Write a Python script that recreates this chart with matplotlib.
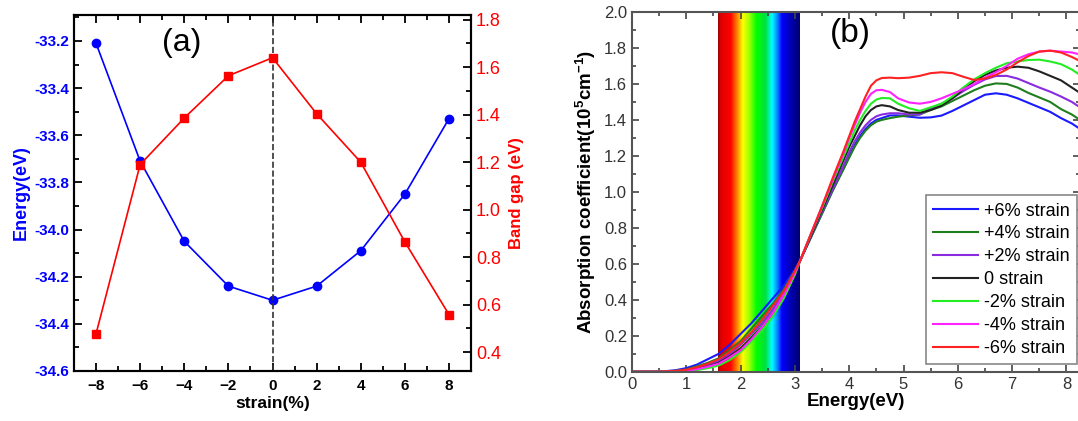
import numpy as np
import matplotlib.pyplot as plt
from matplotlib.colors import LinearSegmentedColormap
from matplotlib.ticker import MultipleLocator

plt.rcParams['font.family'] = ['Liberation Sans', 'DejaVu Sans']
plt.rcParams['mathtext.fontset'] = 'custom'
plt.rcParams['mathtext.rm'] = 'Liberation Sans'
plt.rcParams['mathtext.bf'] = 'Liberation Sans:bold'

# (a) energia e band gap vs strain
strain = [-8, -6, -4, -2, 0, 2, 4, 6, 8]
energy = [-33.21, -33.71, -34.05, -34.24, -34.30, -34.24, -34.09, -33.85, -33.53]
band_gap = [0.477, 1.19, 1.386, 1.564, 1.64, 1.404, 1.20, 0.864, 0.558]

# (b) coeficiente de absorcao
E = [0, 0.5, 0.8, 1.0, 1.2, 1.4, 1.6, 1.8, 2.0, 2.2, 2.4, 2.6, 2.8, 3.0, 3.1,
     3.3, 3.5, 3.7, 3.9, 4.0, 4.1, 4.2, 4.3, 4.4, 4.5, 4.6, 4.75, 4.9, 5.1,
     5.3, 5.5, 5.7, 5.9, 6.1, 6.3, 6.5, 6.7, 6.9, 7.1, 7.3, 7.5, 7.7, 7.9,
     8.1, 8.3]
abs_p6 = [0, 0, 0.008, 0.02, 0.04, 0.07, 0.1, 0.15, 0.21, 0.27, 0.34, 0.41,
          0.48, 0.57, 0.62, 0.75, 0.88, 1.01, 1.13, 1.2, 1.26, 1.31, 1.35,
          1.38, 1.4, 1.41, 1.425, 1.425, 1.418, 1.412, 1.414, 1.424, 1.45,
          1.48, 1.51, 1.54, 1.548, 1.54, 1.52, 1.495, 1.47, 1.445, 1.41,
          1.38, 1.34]
abs_p4 = [0, 0, 0.005, 0.013, 0.03, 0.05, 0.075, 0.12, 0.17, 0.24, 0.31,
          0.38, 0.46, 0.56, 0.62, 0.75, 0.88, 1.01, 1.13, 1.19, 1.25, 1.3,
          1.34, 1.37, 1.39, 1.4, 1.41, 1.418, 1.425, 1.43, 1.455, 1.475,
          1.505, 1.535, 1.565, 1.59, 1.603, 1.6, 1.58, 1.55, 1.525, 1.5,
          1.46, 1.43, 1.39]
abs_p2 = [0, 0, 0.004, 0.01, 0.02, 0.04, 0.06, 0.1, 0.15, 0.21, 0.27, 0.35,
          0.44, 0.55, 0.62, 0.76, 0.89, 1.02, 1.15, 1.22, 1.28, 1.33, 1.37,
          1.4, 1.42, 1.43, 1.437, 1.437, 1.43, 1.43, 1.465, 1.49, 1.52,
          1.56, 1.595, 1.625, 1.644, 1.645, 1.63, 1.605, 1.58, 1.557, 1.53,
          1.5, 1.46]
abs_0 = [0, 0, 0.002, 0.007, 0.015, 0.03, 0.05, 0.085, 0.13, 0.19, 0.25,
         0.33, 0.42, 0.54, 0.62, 0.76, 0.9, 1.04, 1.18, 1.25, 1.31, 1.37,
         1.42, 1.455, 1.475, 1.482, 1.475, 1.455, 1.44, 1.44, 1.455, 1.48,
         1.52, 1.57, 1.615, 1.65, 1.675, 1.69, 1.696, 1.69, 1.67, 1.645,
         1.62, 1.58, 1.54]
abs_m2 = [0, 0, 0.001, 0.004, 0.009, 0.02, 0.035, 0.065, 0.11, 0.17, 0.23,
          0.31, 0.41, 0.54, 0.62, 0.77, 0.91, 1.06, 1.2, 1.27, 1.34, 1.4,
          1.45, 1.49, 1.513, 1.522, 1.52, 1.49, 1.465, 1.45, 1.47, 1.49,
          1.53, 1.58, 1.625, 1.66, 1.69, 1.715, 1.725, 1.733, 1.735, 1.725,
          1.71, 1.68, 1.64]
abs_m4 = [0, 0, 0.002, 0.006, 0.014, 0.028, 0.045, 0.08, 0.12, 0.18, 0.25,
          0.33, 0.43, 0.55, 0.62, 0.77, 0.92, 1.07, 1.22, 1.3, 1.37, 1.44,
          1.5, 1.545, 1.565, 1.567, 1.555, 1.52, 1.497, 1.49, 1.5, 1.52,
          1.545, 1.57, 1.6, 1.635, 1.665, 1.7, 1.74, 1.765, 1.78, 1.785,
          1.78, 1.775, 1.76]
abs_m6 = [0, 0, 0.004, 0.011, 0.025, 0.045, 0.07, 0.11, 0.16, 0.22, 0.29,
          0.37, 0.45, 0.56, 0.62, 0.77, 0.92, 1.08, 1.23, 1.31, 1.39, 1.46,
          1.53, 1.59, 1.62, 1.633, 1.635, 1.632, 1.635, 1.645, 1.66, 1.665,
          1.66, 1.64, 1.622, 1.63, 1.65, 1.68, 1.72, 1.755, 1.78, 1.785,
          1.775, 1.75, 1.72]

series = [
    (abs_p6, '+6% strain', '#1a1aff'),
    (abs_p4, '+4% strain', '#1f7f1f'),
    (abs_p2, '+2% strain', '#8a2be2'),
    (abs_0, '0 strain', '#222222'),
    (abs_m2, '-2% strain', '#22ee22'),
    (abs_m4, '-4% strain', '#ff22ff'),
    (abs_m6, '-6% strain', '#ff2222'),
]

W, H = 1078, 421
fig = plt.figure(figsize=(W / 100, H / 100), dpi=100)

# ---------- painel (a) ----------
ax = fig.add_axes([74 / W, (H - 371) / H, 397 / W, 356 / H])
ax2 = ax.twinx()

ax.plot(strain, energy, color='blue', marker='o', ms=6, lw=1.2)
ax2.plot(strain, band_gap, color='red', marker='s', ms=5.5, lw=1.2)
ax.axvline(0, color='#333333', ls='--', lw=1.2)

ax.set_xlim(-9, 9)
ax.set_ylim(-34.6, -33.09)
ax2.set_ylim(0.32, 1.82)
ax.set_xticks(strain)
ax.set_yticks(np.arange(-34.6, -33.1, 0.2))
ax2.set_yticks(np.arange(0.4, 1.81, 0.2))
ax.xaxis.set_minor_locator(MultipleLocator(1))
ax.yaxis.set_minor_locator(MultipleLocator(0.1))
ax2.yaxis.set_minor_locator(MultipleLocator(0.1))
ax.set_yticklabels([f'{v:.1f}' for v in np.arange(-34.6, -33.1, 0.2)])

ax.tick_params(which='both', direction='in', top=True, width=1.3)
ax.tick_params(which='major', length=6)
ax.tick_params(which='minor', length=3.5)
ax.tick_params(axis='x', labelsize=11, pad=6)
ax.tick_params(axis='y', labelsize=11, labelcolor='blue')
ax2.tick_params(which='both', direction='in', width=1.3, labelsize=13,
                labelcolor='red')
ax2.tick_params(which='major', length=6)
ax2.tick_params(which='minor', length=3.5)
for t in ax.get_xticklabels() + ax.get_yticklabels():
    t.set_fontweight('bold')
for s in ax.spines.values():
    s.set_linewidth(1.5)
for s in ax2.spines.values():
    s.set_linewidth(1.5)

ax.set_xlabel('strain(%)', fontsize=12.5, fontweight='bold', labelpad=2)
ax.set_ylabel('Energy(eV)', fontsize=13, fontweight='bold', color='blue',
              labelpad=3)
ax2.set_ylabel('Band gap (eV)', fontsize=12, fontweight='bold', color='red',
               labelpad=6)
ax.text(0.272, 0.92, '(a)', transform=ax.transAxes, fontsize=23,
        ha='center', va='center')

# ---------- painel (b) ----------
bx = fig.add_axes([632 / W, (H - 371.7) / H, 448 / W, 359.7 / H])

# faixa do espectro visivel
cores = [(0.0, '#a00000'), (0.03, '#e00000'), (0.15, '#ff0000'),
         (0.23, '#ff8000'), (0.30, '#ffff00'), (0.38, '#a0ff00'),
         (0.47, '#00ff00'), (0.58, '#00e040'), (0.66, '#00ffff'),
         (0.73, '#0080ff'), (0.78, '#0000ff'), (0.92, '#0000a0'),
         (1.0, '#000070')]
cmap = LinearSegmentedColormap.from_list('espectro', cores)
grad = np.linspace(0, 1, 300).reshape(1, -1)
bx.imshow(grad, cmap=cmap, extent=[1.58, 3.08, 0, 2.0], aspect='auto',
          zorder=0)

for vals, lab, cor in series:
    bx.plot(E, vals, color=cor, lw=1.5, label=lab, zorder=2)

bx.set_xlim(0, 8.25)
bx.set_ylim(0, 2.0)
bx.set_xticks(range(0, 9))
bx.set_yticks(np.arange(0, 2.01, 0.2))
bx.set_yticklabels([f'{v:.1f}' for v in np.arange(0, 2.01, 0.2)])
bx.xaxis.set_minor_locator(MultipleLocator(0.5))
bx.yaxis.set_minor_locator(MultipleLocator(0.1))
bx.tick_params(which='both', direction='in', top=True, right=True,
               width=1.2, colors='#444444', labelcolor='#333333')
bx.tick_params(which='major', length=5, labelsize=12)
bx.tick_params(which='minor', length=3)
for s in bx.spines.values():
    s.set_linewidth(1.5)
    s.set_color('#555555')

bx.set_xlabel('Energy(eV)', fontsize=13.5, fontweight='bold', labelpad=1)
bx.set_ylabel(r'Absorption coefficient(10$^{\mathbf{5}}$cm$^{\mathbf{-1}}$)',
              fontsize=13.5, fontweight='bold', labelpad=4)
bx.text(0.487, 0.94, '(b)', transform=bx.transAxes, fontsize=24,
        ha='center', va='center')

leg = bx.legend(loc='upper left', bbox_to_anchor=(926 / W, 1 - 195.3 / H),
                bbox_transform=fig.transFigure, borderaxespad=0,
                fontsize=13, handlelength=2.5, handletextpad=0.3,
                labelspacing=0.33, borderpad=0.4, fancybox=False,
                framealpha=1)
leg.get_frame().set_edgecolor('#888888')
leg.get_frame().set_linewidth(1.2)

fig.savefig('out.png', dpi=100)
